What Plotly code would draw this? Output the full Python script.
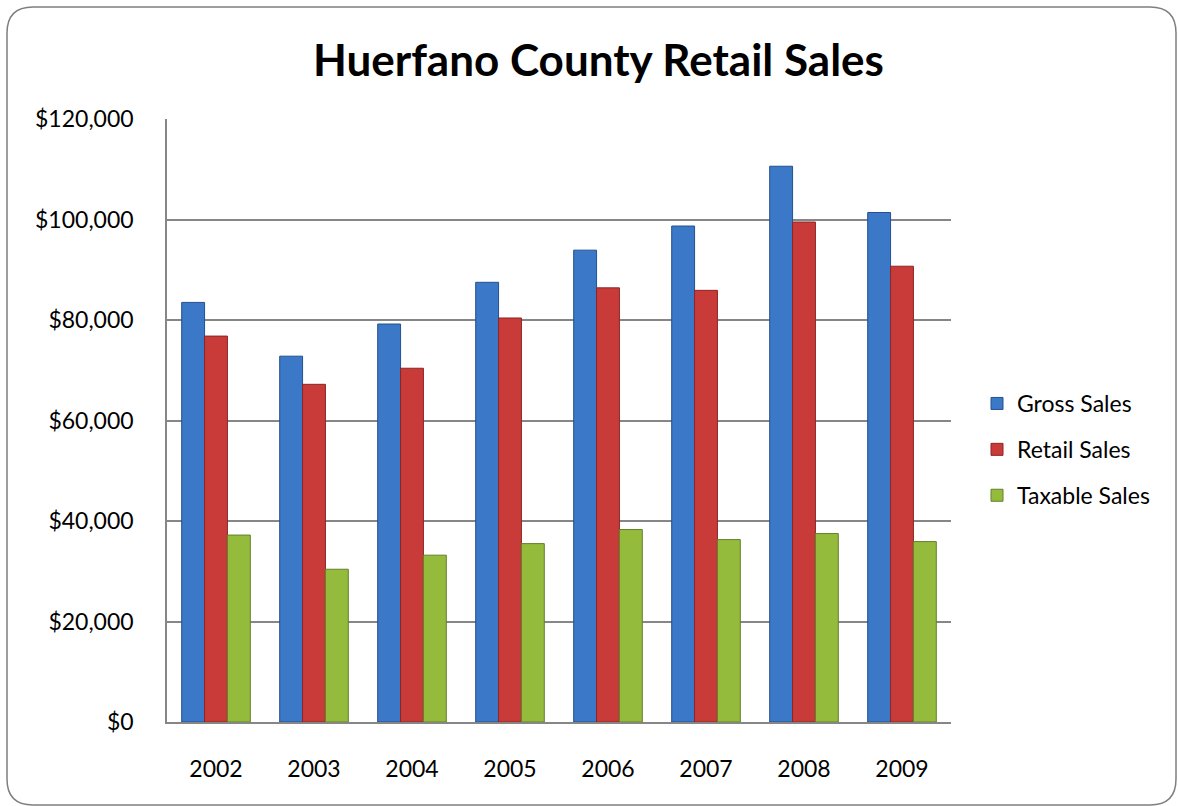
import plotly.graph_objects as go

years = ["2002", "2003", "2004", "2005", "2006", "2007", "2008", "2009"]
gross_sales = [83500, 72800, 79200, 87500, 93900, 98700, 110600, 101400]
retail_sales = [76800, 67200, 70400, 80400, 86400, 85900, 99500, 90700]
taxable_sales = [37200, 30400, 33200, 35500, 38300, 36300, 37500, 35900]

series = [
    ("Gross Sales", gross_sales, "#3B78C8", "#24508C"),
    ("Retail Sales", retail_sales, "#C93B38", "#8A2624"),
    ("Taxable Sales", taxable_sales, "#95BB3D", "#62802A"),
]

W, H = 1178, 806
L, R, T, B = 167, 951, 119, 722
FONT = "Lato, Open Sans, sans-serif"

fig = go.Figure()
for i, (name, vals, col, edge) in enumerate(series):
    fig.add_trace(go.Bar(
        x=years, y=vals, name=name, legendgroup=f"g{i}",
        marker=dict(color=col, line=dict(color=edge, width=1)),
    ))

def px(x):
    return (x - L) / (R - L)

def py(y):
    return (B - y) / (B - T)

# rounded border of the chart area
x0, x1, y0, y1, r = 7, 1176, 7, 805, 26
path = (
    f"M {px(x0+r)},{py(y0)} L {px(x1-r)},{py(y0)} "
    f"Q {px(x1)},{py(y0)} {px(x1)},{py(y0+r)} "
    f"L {px(x1)},{py(y1-r)} Q {px(x1)},{py(y1)} {px(x1-r)},{py(y1)} "
    f"L {px(x0+r)},{py(y1)} Q {px(x0)},{py(y1)} {px(x0)},{py(y1-r)} "
    f"L {px(x0)},{py(y0+r)} Q {px(x0)},{py(y0)} {px(x0+r)},{py(y0)} Z"
)

fig.update_layout(
    width=W, height=H,
    margin=dict(l=L, r=W - R, t=T, b=H - B, autoexpand=False),
    paper_bgcolor="white", plot_bgcolor="white",
    font=dict(family=FONT, size=23, color="#000000"),
    title=dict(text="<b>Huerfano County Retail Sales</b>", x=0.508, xanchor="center",
               y=1 - 61 / H, yanchor="middle",
               font=dict(size=44, family=FONT, color="#000000")),
    barmode="group", bargap=0.3, bargroupgap=0.0,
    showlegend=True,
    legend=dict(x=px(977), xanchor="left", y=py(382), yanchor="top",
                font=dict(size=23), tracegroupgap=13, bgcolor="rgba(0,0,0,0)",
                itemwidth=30),
    shapes=[dict(type="path", xref="paper", yref="paper", path=path,
                 line=dict(color="#7F7F7F", width=1.5), layer="below")],
    xaxis=dict(showgrid=False, showline=True, linecolor="#868686", linewidth=1.5,
               ticks="", tickfont=dict(size=23), ticklabelstandoff=26),
    yaxis=dict(range=[0, 120000], dtick=20000, tickformat="$,.0f",
               showgrid=True, gridcolor="#868686", gridwidth=1.5,
               showline=True, linecolor="#868686", linewidth=1.5,
               ticks="", tickfont=dict(size=23), ticklabelstandoff=27,
               zeroline=False),
)

fig.write_html("out.html", config={"displayModeBar": False},
               post_script="document.body.style.margin='0';")
